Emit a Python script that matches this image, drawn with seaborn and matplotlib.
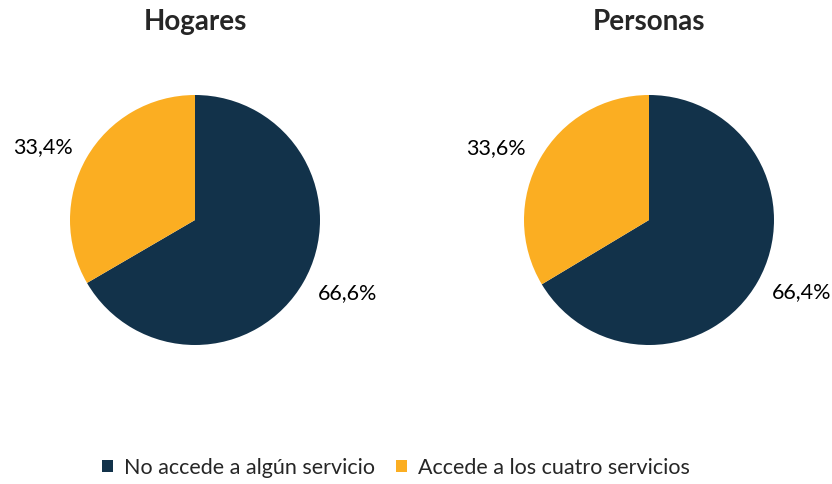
import matplotlib
matplotlib.use("Agg")
import matplotlib.pyplot as plt
import seaborn as sns

titles = ["Hogares", "Personas"]
categories = ["No accede a algún servicio", "Accede a los cuatro servicios"]
hogares = [66.6, 33.4]
personas = [66.4, 33.6]
colors = ["#12324A", "#FBAE22"]

sns.set_theme(style="white")
plt.rcParams["font.family"] = ["Lato", "DejaVu Sans"]

fig = plt.figure(figsize=(8.32, 4.84), dpi=100)
W, H = 832, 484


def fmt(p):
    return f"{p:.1f}%".replace(".", ",")


wedges = None
for cx, title, vals in [(195, titles[0], hogares), (649, titles[1], personas)]:
    r = 125
    ax = fig.add_axes([(cx - r) / W, (H - 220 - r) / H, 2 * r / W, 2 * r / H])
    wedges, _, autotexts = ax.pie(
        vals, colors=colors, startangle=90, counterclock=False,
        autopct=fmt, pctdistance=1.35, radius=1,
        wedgeprops={"linewidth": 0},
        textprops={"fontsize": 15.5, "color": "black"},
    )
    # excel-style label placement sits a bit closer to the horizontal
    for t in autotexts:
        x, y = t.get_position()
        t.set_position((x * 1.04, y * 0.87))
    ax.set_xlim(-1, 1); ax.set_ylim(-1, 1)
    ax.set_aspect("equal")
    ax.axis("off")
    fig.text(cx / W, 1 - 22 / H, title, ha="center", va="center",
             fontsize=20, fontweight="bold")

fig.legend(wedges, categories, loc="center", bbox_to_anchor=(396 / W, 1 - 468 / H),
           ncol=2, frameon=False, fontsize=15.5, handlelength=0.5, handleheight=0.5,
           handletextpad=0.5, columnspacing=1.0)

fig.savefig("out.png", dpi=100)
